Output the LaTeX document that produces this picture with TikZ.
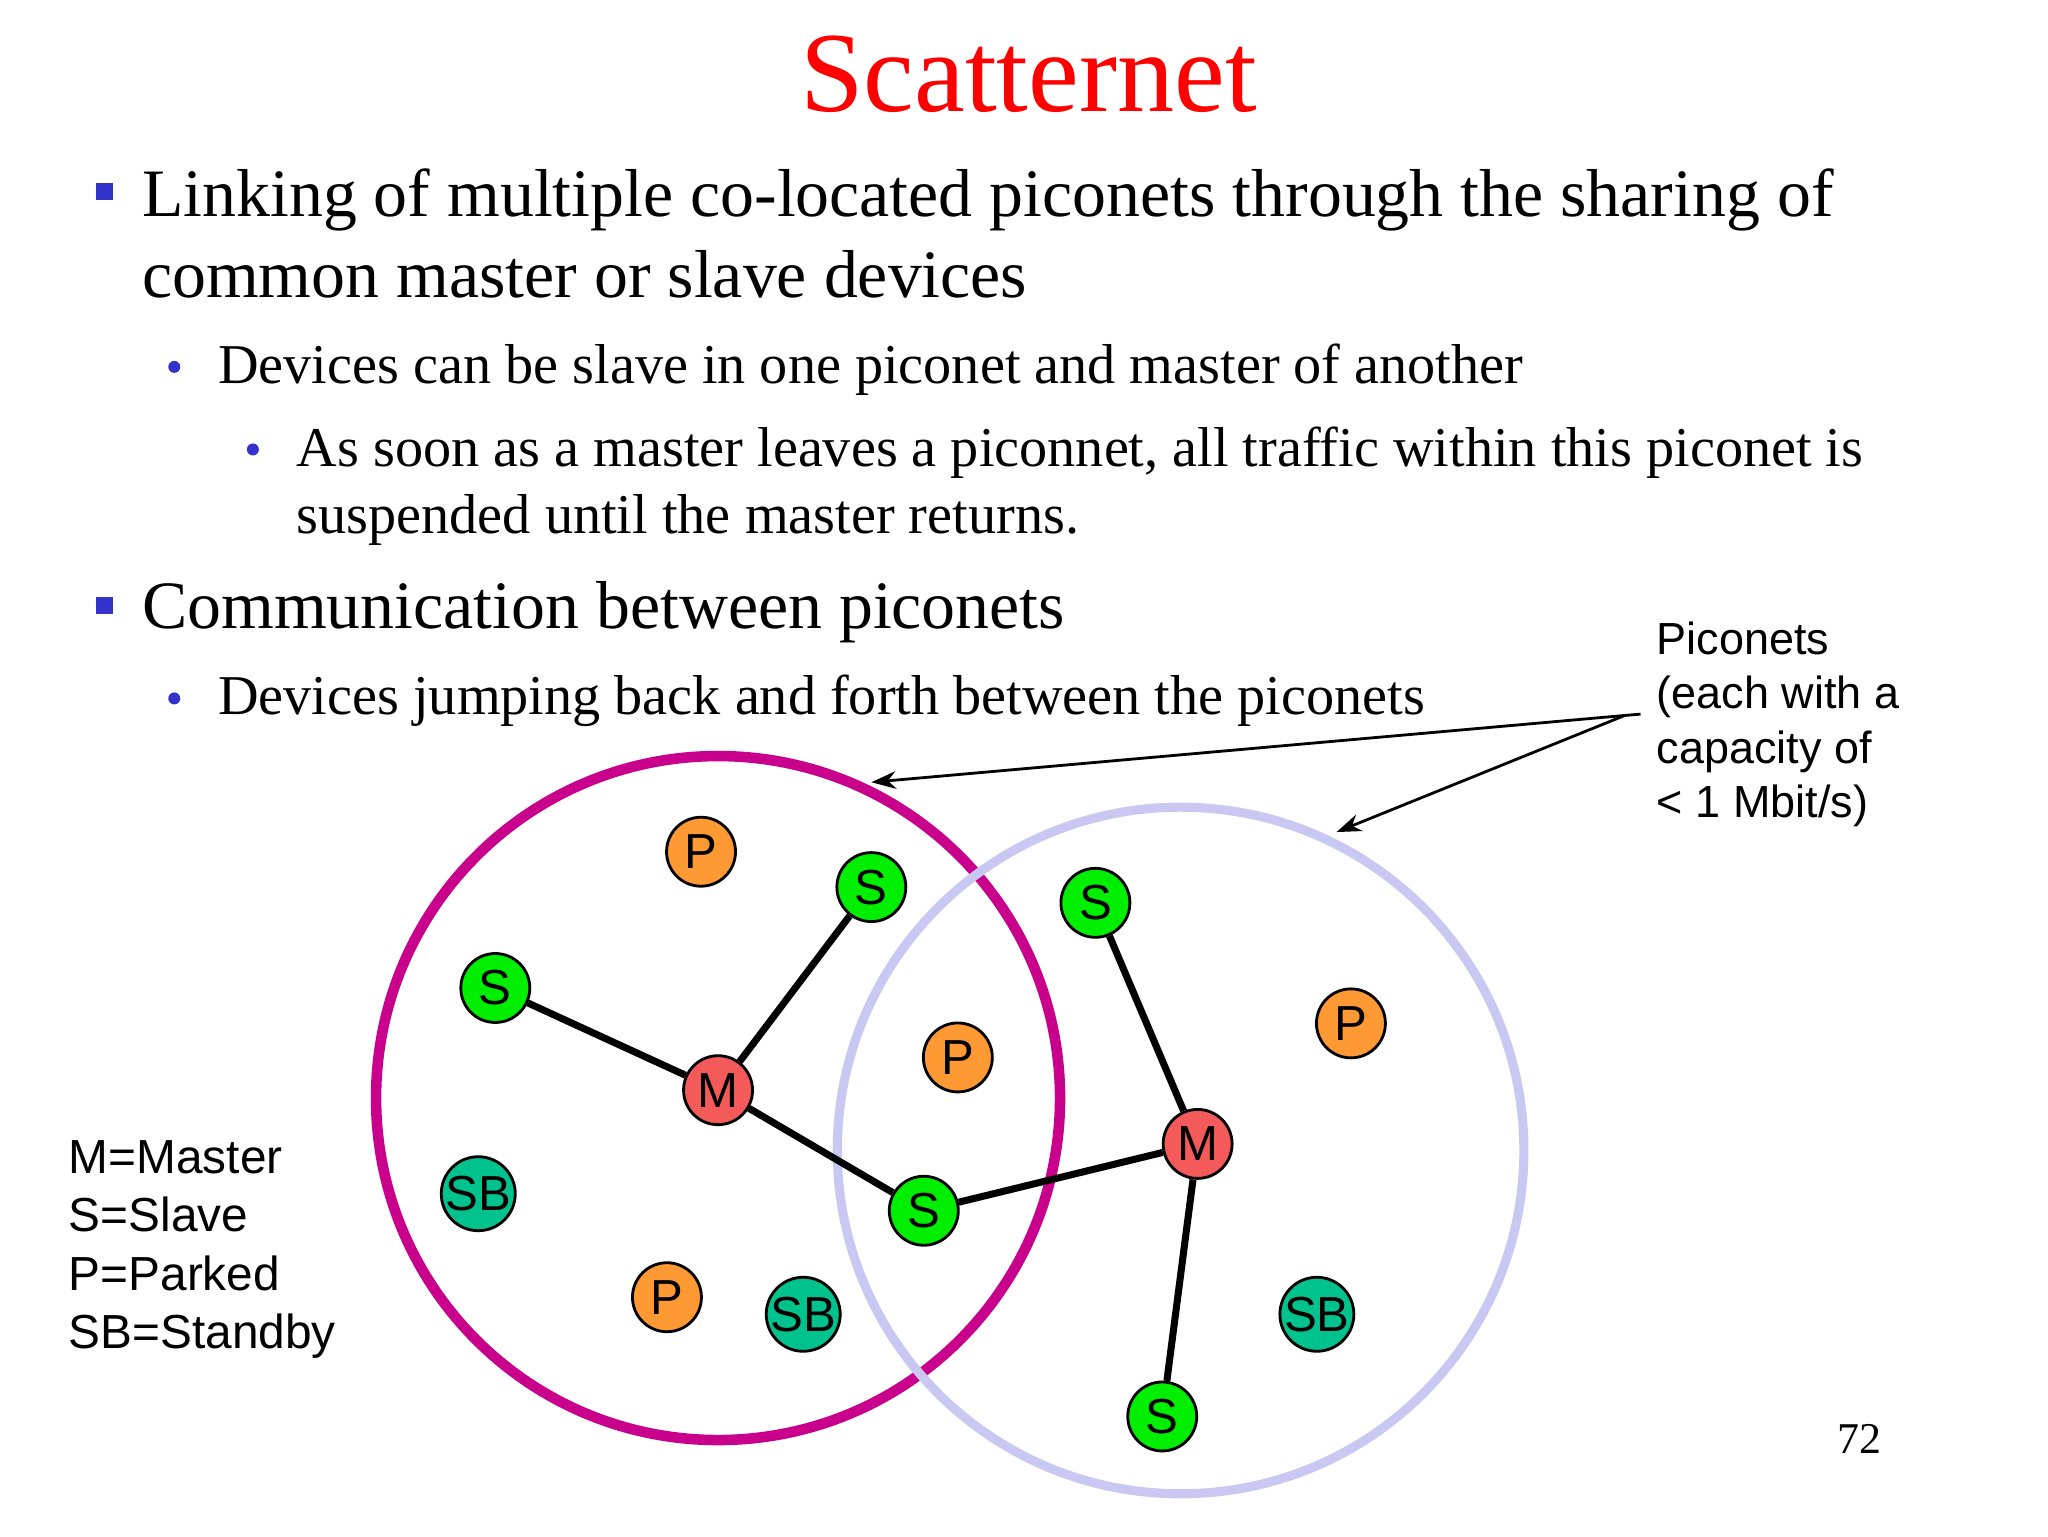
\documentclass[tikz,border=0pt]{standalone}
\usepackage{fontspec}
\setmainfont{Liberation Serif}
\newfontfamily\labfont{Liberation Sans}
\usetikzlibrary{arrows.meta}
\definecolor{sgreen}{HTML}{00EE00}
\definecolor{porange}{HTML}{FF9933}
\definecolor{mred}{HTML}{F55A5A}
\definecolor{sbteal}{HTML}{00C28C}
\definecolor{cmag}{HTML}{C8008C}
\definecolor{clav}{HTML}{C8C8F2}
\definecolor{bul}{HTML}{3333CC}
\begin{document}
\begin{tikzpicture}[x=0.0131030cm,y=-0.0131030cm,
  dev/.style={circle,draw=black,line width=0.8pt,minimum size=0.69cm,inner sep=0pt,font=\labfont\fontsize{14}{14}\selectfont},
  sd/.style={dev,fill=sgreen}, pd/.style={dev,fill=porange}, md/.style={dev,fill=mred}, sbd/.style={dev,fill=sbteal},
  link/.style={line width=2pt},
  txa/.style={anchor=base west,inner sep=0pt,font=\fontsize{19.3}{24}\selectfont},
  txb/.style={anchor=base west,inner sep=0pt,font=\fontsize{16}{19}\selectfont},
  sqb/.style={fill=bul,minimum size=0.17cm,inner sep=0pt},
  rb/.style={circle,fill=bul,minimum size=0.12cm,inner sep=0pt},
  lab/.style={anchor=north west,inner sep=0pt,align=left}]
\useasboundingbox (0,0) rectangle (1563,1172.25);
\node[anchor=base,inner sep=0pt,text=red,font=\fontsize{32.5}{36}\selectfont] (title) at (785,85) {Scatternet};
\node[sqb] (b1) at (80,146) {};
\node[txa] (l1) at (108,165) {Linking of multiple co-located piconets through the sharing of};
\node[txa] (l2) at (108,227) {common master or slave devices};
\node[rb] (b2) at (133,280) {};
\node[txb] (l3) at (166,293) {Devices can be slave in one piconet and master of another};
\node[rb] (b3) at (193,343) {};
\node[txb] (l4) at (226,356) {As soon as a master leaves a piconnet, all traffic within this piconet is};
\node[txb] (l5) at (226,407) {suspended until the master returns.};
\node[sqb] (b4) at (80,462) {};
\node[txa] (l6) at (108,480) {Communication between piconets};
\node[rb] (b5) at (133,533) {};
\node[txb] (l7) at (166,545) {Devices jumping back and forth between the piconets};
\node[anchor=base,inner sep=0pt,font=\fontsize{12.5}{14}\selectfont] (pg) at (1419,1109) {72};
\node[lab,font=\labfont\fontsize{13.6}{16.6}\selectfont] (legend) at (52,870) {M=Master\\S=Slave\\P=Parked\\SB=Standby};
\node[lab,font=\labfont\fontsize{12.8}{15.5}\selectfont] (pic) at (1264,474) {Piconets\\(each with a\\capacity of\\< 1 Mbit/s)};
\draw[cmag,line width=3pt] (548,838) circle [radius=261];
\draw[clav,line width=2.6pt] (901,878) circle [radius=262];
\node[pd] (P1) at (535,650) {P};
\node[sd] (S1) at (665,677) {S};
\node[sd] (S2) at (378,754) {S};
\node[md] (M1) at (548,832) {M};
\node[pd] (P2) at (731,807) {P};
\node[sd] (S3) at (836,689) {S};
\node[pd] (P3) at (1031,781) {P};
\node[md] (M2) at (914,873) {M};
\node[sbd] (SB1) at (365,911) {SB};
\node[sd] (S4) at (705,924) {S};
\node[pd] (P4) at (509,990) {P};
\node[sbd] (SB2) at (613,1003) {SB};
\node[sbd] (SB3) at (1005,1003) {SB};
\node[sd] (S5) at (887,1081) {S};
\draw[link] (S2) -- (M1);
\draw[link] (M1) -- (S1);
\draw[link] (M1) -- (S4);
\draw[link] (S4) -- (M2);
\draw[link] (S3) -- (M2);
\draw[link] (M2) -- (S5);
\coordinate (ab) at (1240,546);
\coordinate (ae) at (1252,545);
\coordinate (ta) at (665,597);
\coordinate (tb) at (1020,635);
\draw[line width=0.8pt] (ae) -- (ab);
\draw[line width=0.8pt,-{Stealth[length=7pt,width=5pt]}] (ab) -- (ta);
\draw[line width=0.8pt,-{Stealth[length=7pt,width=5pt]}] (ab) -- (tb);
\end{tikzpicture}
\end{document}
